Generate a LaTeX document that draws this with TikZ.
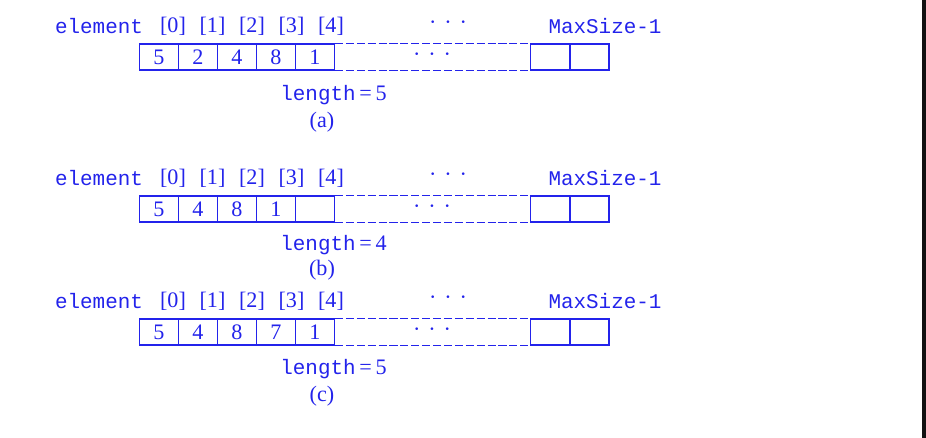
\documentclass[tikz,border=0pt]{standalone}
\usepackage{fontspec}
\setmainfont{Liberation Serif}
\setmonofont{Liberation Mono}
\definecolor{arrblue}{RGB}{35,35,235}
\newcommand\gapdots{\textperiodcentered\hspace{4.5pt}\textperiodcentered\hspace{4.5pt}\textperiodcentered}

\begin{document}
\begin{tikzpicture}[x=0.02cm, y=-0.02cm, line width=0.6pt,
  every node/.style={text=arrblue, font=\fontsize{12.6}{15}\selectfont},
  cell/.style={rectangle, draw=arrblue, minimum width=0.78cm, minimum height=0.52cm, inner sep=0pt},
  gap/.style={draw=arrblue, line width=0.7pt, dash pattern=on 4.6pt off 1.6pt},
  mono/.style={font=\fontsize{11.9}{14}\selectfont\ttfamily}]
\useasboundingbox (0,0) rectangle (926,438);
\fill[black!93] (922,0) rectangle (926,438);
% one row per state of the list
\foreach \row/\dy/\ly/\cy/\len/\vals in {a/0/95/122/5/{5,2,4,8,1}, b/152/93/118/4/{5,4,8,1,{}}, c/275/94/121/5/{5,4,8,7,1}} {
  \begin{scope}[shift={(0,\dy)}]
    \node [mono] (\row-name) at (99,26) {element};
    \foreach \v [count=\i from 0] in \vals {
      \node [cell] (\row\i) at (159+39*\i,57) {\v};
      \node (\row-idx\i) at (173+39.5*\i,26) {[\i]};
    }
    \node [cell] (\row M1) at (550,57) {};
    \node [cell] (\row M2) at (589.5,57) {};
    \node [mono] (\row-max) at (605,26) {MaxSize-1};
    \node (\row-topdots) at (448,25) {\gapdots};
    \node (\row-dots) at (432,57) {\gapdots};
    % unused part of the array
    \draw [gap] (\row4.north east) -- (\row M1.north west);
    \draw [gap] (\row4.south east) -- (\row M1.south west);
    \node [anchor=west] (\row-len) at (274,\ly) {{\fontsize{11.9}{14}\selectfont\ttfamily length}\,=\,\len};
    \node (\row-cap) at (322,\cy) {(\row)};
  \end{scope}
}
\end{tikzpicture}
\end{document}
